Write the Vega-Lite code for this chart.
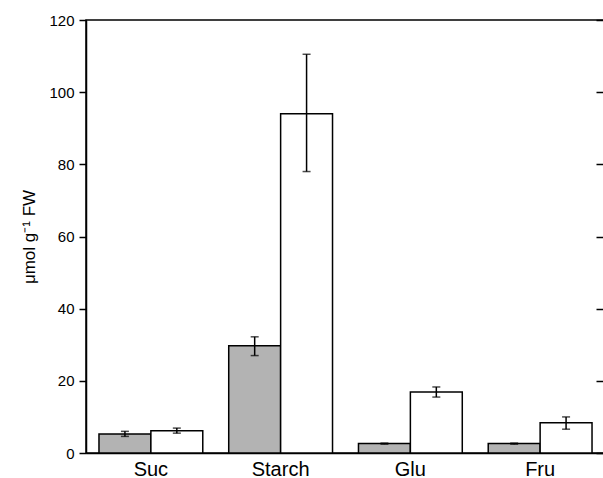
{
  "$schema": "https://vega.github.io/schema/vega-lite/v6.json",
  "width": 519,
  "height": 433,
  "autosize": {"type": "none"},
  "padding": {"left": 86, "top": 20, "right": 0, "bottom": 25},
  "background": "white",
  "config": {
    "view": {"stroke": "black", "strokeWidth": 1.5},
    "font": "Liberation Sans",
    "axis": {"grid": false}
  },
  "data": {
    "values": [
      {"sugar": "Suc", "group": "Group 1", "value": 5.3, "lo": 4.6, "hi": 6.0},
      {"sugar": "Suc", "group": "Group 2", "value": 6.2, "lo": 5.5, "hi": 6.9},
      {"sugar": "Starch", "group": "Group 1", "value": 29.7, "lo": 27.0, "hi": 32.2},
      {"sugar": "Starch", "group": "Group 2", "value": 94.0, "lo": 78.0, "hi": 110.5},
      {"sugar": "Glu", "group": "Group 1", "value": 2.6, "lo": 2.45, "hi": 2.75},
      {"sugar": "Glu", "group": "Group 2", "value": 16.9, "lo": 15.5, "hi": 18.3},
      {"sugar": "Fru", "group": "Group 1", "value": 2.6, "lo": 2.45, "hi": 2.75},
      {"sugar": "Fru", "group": "Group 2", "value": 8.4, "lo": 6.6, "hi": 10.0}
    ]
  },
  "encoding": {
    "x": {
      "field": "sugar",
      "type": "nominal",
      "sort": ["Suc", "Starch", "Glu", "Fru"],
      "scale": {"paddingInner": 0.2, "paddingOuter": 0.1},
      "axis": {
        "title": null,
        "labelAngle": 0,
        "labelFontSize": 20,
        "labelColor": "black",
        "ticks": false,
        "domainColor": "black",
        "domainWidth": 1.5,
        "labelPadding": 6
      }
    },
    "xOffset": {
      "field": "group",
      "type": "nominal",
      "sort": ["Group 1", "Group 2"],
      "scale": {"paddingInner": 0, "paddingOuter": 0}
    }
  },
  "layer": [
    {
      "mark": {"type": "bar", "stroke": "black", "strokeWidth": 1.5},
      "encoding": {
        "y": {
          "field": "value",
          "type": "quantitative",
          "scale": {"domain": [0, 120]},
          "axis": {
            "orient": "left",
            "values": [0, 20, 40, 60, 80, 100, 120],
            "title": "μmol g⁻¹ FW",
            "titleFontSize": 17,
            "titleFontWeight": "normal",
            "titleColor": "black",
            "titlePadding": 10,
            "labelFontSize": 15,
            "labelColor": "black",
            "labelPadding": 5,
            "tickSize": 7,
            "tickColor": "black",
            "tickWidth": 1.5,
            "domainColor": "black",
            "domainWidth": 1.5
          }
        },
        "fill": {
          "field": "group",
          "type": "nominal",
          "scale": {"domain": ["Group 1", "Group 2"], "range": ["#b3b3b3", "#ffffff"]},
          "legend": null
        }
      }
    },
    {
      "mark": {"type": "rule", "color": "black", "strokeWidth": 1.5},
      "encoding": {
        "y": {"field": "lo", "type": "quantitative", "axis": null},
        "y2": {"field": "hi"}
      }
    },
    {
      "mark": {"type": "tick", "color": "black", "thickness": 1.5, "size": 8},
      "encoding": {
        "y": {"field": "lo", "type": "quantitative", "axis": null}
      }
    },
    {
      "mark": {"type": "tick", "color": "black", "thickness": 1.5, "size": 8},
      "encoding": {
        "y": {
          "field": "hi",
          "type": "quantitative",
          "axis": {
            "orient": "right",
            "values": [0, 20, 40, 60, 80, 100, 120],
            "labels": false,
            "title": null,
            "tickSize": -9,
            "tickColor": "black",
            "tickWidth": 1.5,
            "domainColor": "black",
            "domainWidth": 1.5
          }
        }
      }
    }
  ],
  "resolve": {"axis": {"y": "independent"}}
}
